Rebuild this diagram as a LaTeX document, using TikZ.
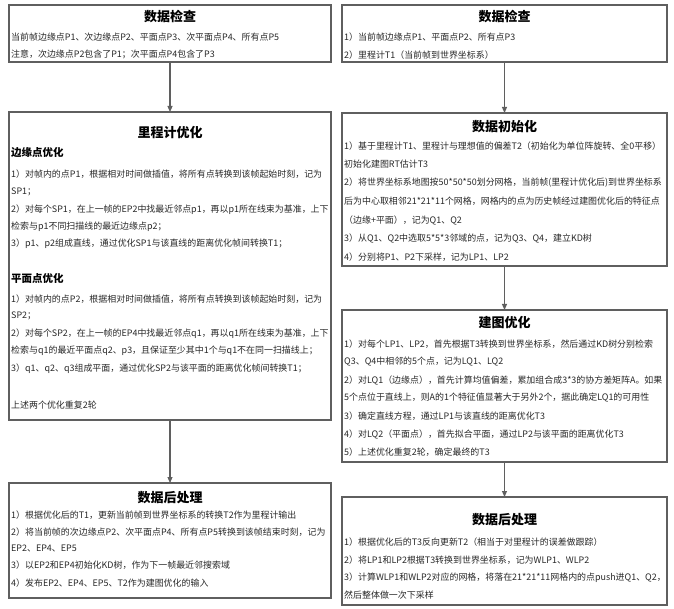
\documentclass[tikz,border=0pt]{standalone}
\usepackage{fontspec}
\setmainfont{Noto Sans CJK SC}
\usetikzlibrary{arrows.meta}
\definecolor{boxgray}{RGB}{95,95,95}
\definecolor{txtgray}{RGB}{40,40,40}
\tikzset{
  box/.style={draw=boxgray, line width=1.1pt, fill=white, anchor=north west, inner sep=0pt, outer sep=0pt},
  txt/.style={anchor=west, inner sep=0pt, text=txtgray, font=\fontsize{8.95}{10}\selectfont},
  ttl/.style={anchor=center, inner sep=0pt, text=black, font=\fontsize{13}{15}\selectfont\bfseries},
  hdr/.style={anchor=west, inner sep=0pt, text=black, font=\fontsize{10.5}{12}\selectfont\bfseries},
  flow/.style={draw=boxgray, line width=1.1pt, -{Triangle[length=6pt,width=5pt]}}
}
\begin{document}
\begin{tikzpicture}[x=1pt,y=-1pt]
\useasboundingbox (0,0) rectangle (674,609);
% boxes
\node[box, minimum width=322pt, minimum height=57pt] (L1) at (9,5) {};
\node[box, minimum width=322pt, minimum height=308pt] (L2) at (9,112) {};
\node[box, minimum width=322pt, minimum height=115pt] (L3) at (9,483) {};
\node[box, minimum width=325pt, minimum height=57pt] (R1) at (342,5) {};
\node[box, minimum width=325pt, minimum height=153pt] (R2) at (342,113) {};
\node[box, minimum width=325pt, minimum height=152pt] (R3) at (342,310) {};
\node[box, minimum width=325pt, minimum height=108pt] (R4) at (342,497) {};
% connectors
\draw[flow] (L1.south) -- (L2.north);
\draw[flow] (L2.south) -- (L3.north);
\draw[flow] (R1.south) -- (R2.north);
\draw[flow] (R2.south) -- (R3.north);
\draw[flow] (R3.south) -- (R4.north);
% L1
\node[ttl] (l1t) at (170,17) {数据检查};
\node[txt] (l1a) at (11,37) {当前帧边缘点P1、次边缘点P2、平面点P3、次平面点P4、所有点P5};
\node[txt] (l1b) at (11,54) {注意，次边缘点P2包含了P1；次平面点P4包含了P3};
% L2
\node[ttl] (l2t) at (170,133) {里程计优化};
\node[hdr] (l2h1) at (11,153) {边缘点优化};
\node[txt] (l2a) at (11,174) {1）对帧内的点P1，根据相对时间做插值，将所有点转换到该帧起始时刻，记为};
\node[txt] (l2b) at (11,192) {SP1；};
\node[txt] (l2c) at (11,210) {2）对每个SP1，在上一帧的EP2中找最近邻点p1，再以p1所在线束为基准，上下};
\node[txt] (l2d) at (11,227) {检索与p1不同扫描线的最近边缘点p2；};
\node[txt] (l2e) at (11,244) {3）p1、p2组成直线，通过优化SP1与该直线的距离优化帧间转换T1；};
\node[hdr] (l2h2) at (11,278) {平面点优化};
\node[txt] (l2f) at (11,299) {1）对帧内的点P2，根据相对时间做插值，将所有点转换到该帧起始时刻，记为};
\node[txt] (l2g) at (11,316) {SP2；};
\node[txt] (l2h) at (11,334) {2）对每个SP2，在上一帧的EP4中找最近邻点q1，再以q1所在线束为基准，上下};
\node[txt] (l2i) at (11,351) {检索与q1的最近平面点q2、p3，且保证至少其中1个与q1不在同一扫描线上；};
\node[txt] (l2j) at (11,369) {3）q1、q2、q3组成平面，通过优化SP2与该平面的距离优化帧间转换T1；};
\node[txt] (l2k) at (11,405) {上述两个优化重复2轮};
% L3
\node[ttl] (l3t) at (170,498) {数据后处理};
\node[txt] (l3a) at (11,515) {1）根据优化后的T1，更新当前帧到世界坐标系的转换T2作为里程计输出};
\node[txt] (l3b) at (11,532) {2）将当前帧的次边缘点P2、次平面点P4、所有点P5转换到该帧结束时刻，记为};
\node[txt] (l3c) at (11,548) {EP2、EP4、EP5};
\node[txt] (l3d) at (11,565) {3）以EP2和EP4初始化KD树，作为下一帧最近邻搜索域};
\node[txt] (l3e) at (11,583) {4）发布EP2、EP4、EP5、T2作为建图优化的输入};
% R1
\node[ttl] (r1t) at (504.5,17) {数据检查};
\node[txt] (r1a) at (344,37) {1）当前帧边缘点P1、平面点P2、所有点P3};
\node[txt] (r1b) at (344,55) {2）里程计T1（当前帧到世界坐标系）};
% R2
\node[ttl] (r2t) at (504.5,127) {数据初始化};
\node[txt] (r2a) at (344,146) {1）基于里程计T1、里程计与理想值的偏差T2（初始化为单位阵旋转、全0平移）};
\node[txt] (r2b) at (344,164) {初始化建图RT估计T3};
\node[txt] (r2c) at (344,183) {2）将世界坐标系地图按50*50*50划分网格，当前帧(里程计优化后)到世界坐标系};
\node[txt] (r2d) at (344,201) {后为中心取相邻21*21*11个网格，网格内的点为历史帧经过建图优化后的特征点};
\node[txt] (r2e) at (344,220) {（边缘+平面），记为Q1、Q2};
\node[txt] (r2f) at (344,238) {3）从Q1、Q2中选取5*5*3邻域的点，记为Q3、Q4，建立KD树};
\node[txt] (r2g) at (344,257) {4）分别将P1、P2下采样，记为LP1、LP2};
% R3
\node[ttl] (r3t) at (504.5,323) {建图优化};
\node[txt] (r3a) at (344,344) {1）对每个LP1、LP2，首先根据T3转换到世界坐标系，然后通过KD树分别检索};
\node[txt] (r3b) at (344,362) {Q3、Q4中相邻的5个点，记为LQ1、LQ2};
\node[txt] (r3c) at (344,380) {2）对LQ1（边缘点），首先计算均值偏差，累加组合成3*3的协方差矩阵A。如果};
\node[txt] (r3d) at (344,398) {5个点位于直线上，则A的1个特征值显著大于另外2个，据此确定LQ1的可用性};
\node[txt] (r3e) at (344,416) {3）确定直线方程，通过LP1与该直线的距离优化T3};
\node[txt] (r3f) at (344,434) {4）对LQ2（平面点），首先拟合平面，通过LP2与该平面的距离优化T3};
\node[txt] (r3g) at (344,452) {5）上述优化重复2轮，确定最终的T3};
% R4
\node[ttl] (r4t) at (504.5,520) {数据后处理};
\node[txt] (r4a) at (344,542) {1）根据优化后的T3反向更新T2（相当于对里程计的误差做跟踪）};
\node[txt] (r4b) at (344,560) {2）将LP1和LP2根据T3转换到世界坐标系，记为WLP1、WLP2};
\node[txt] (r4c) at (344,578) {3）计算WLP1和WLP2对应的网格，将落在21*21*11网格内的点push进Q1、Q2，};
\node[txt] (r4d) at (344,595) {然后整体做一次下采样};
\end{tikzpicture}
\end{document}
